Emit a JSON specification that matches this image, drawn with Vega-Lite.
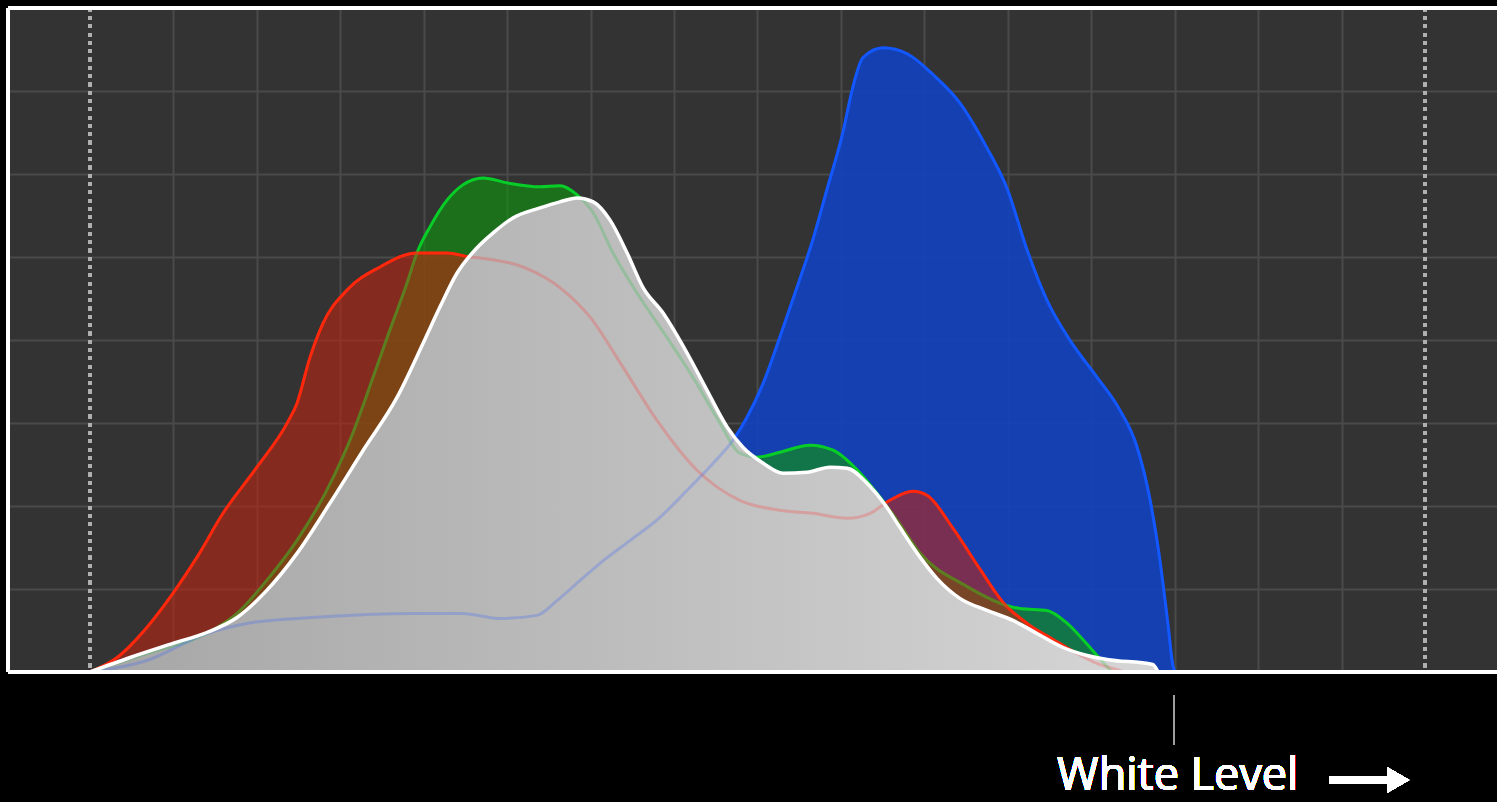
{
  "$schema": "https://vega.github.io/schema/vega-lite/v6.json",
  "autosize": {"type": "none"},
  "padding": {"left": 8, "top": 8, "right": 0, "bottom": 130},
  "width": 1489,
  "height": 664,
  "background": "#000000",
  "config": {"view": {"fill": "#333333", "stroke": null}},
  "datasets": {
    "hist": [
      {"c":"R","x":0,"y":0},{"c":"R","x":5.2,"y":17.5},{"c":"R","x":10.9,"y":53.7},{"c":"R","x":15.9,"y":94.7},{"c":"R","x":20.5,"y":138.1},{"c":"R","x":25.5,"y":191.2},{"c":"R","x":32.0,"y":246.7},{"c":"R","x":37.8,"y":299.8},{"c":"R","x":39.7,"y":323.9},{"c":"R","x":42.2,"y":379.4},{"c":"R","x":44.7,"y":420.4},{"c":"R","x":49.3,"y":460.2},{"c":"R","x":55.6,"y":488},{"c":"R","x":62.7,"y":504.9},{"c":"R","x":68.5,"y":504.9},{"c":"R","x":72.9,"y":500},{"c":"R","x":74.8,"y":498.8},{"c":"R","x":83.0,"y":488},{"c":"R","x":90.7,"y":460.2},{"c":"R","x":95.9,"y":427.6},{"c":"R","x":102.2,"y":367.3},{"c":"R","x":108.7,"y":303.4},{"c":"R","x":116.4,"y":243.1},{"c":"R","x":124.6,"y":206.9},{"c":"R","x":132.3,"y":194.8},{"c":"R","x":138.6,"y":191.2},{"c":"R","x":145.2,"y":185.2},{"c":"R","x":149.6,"y":191.2},{"c":"R","x":153.4,"y":206.9},{"c":"R","x":157.8,"y":217.7},{"c":"R","x":160.5,"y":212.9},{"c":"R","x":165.5,"y":173.1},{"c":"R","x":170.7,"y":123.6},{"c":"R","x":175.1,"y":83.8},{"c":"R","x":179.7,"y":58.5},{"c":"R","x":184.7,"y":39.2},{"c":"R","x":188.9,"y":23.5},{"c":"R","x":193.1,"y":10.3},{"c":"R","x":197.5,"y":1.8},{"c":"R","x":198.5,"y":0},
      {"c":"G","x":0,"y":0},{"c":"G","x":10.9,"y":22.3},{"c":"G","x":22.4,"y":46.4},{"c":"G","x":28.2,"y":70.6},{"c":"G","x":33.9,"y":110.4},{"c":"G","x":39.7,"y":158.6},{"c":"G","x":45.4,"y":218.9},{"c":"G","x":50.4,"y":287.7},{"c":"G","x":54.3,"y":355.3},{"c":"G","x":57.5,"y":411.9},{"c":"G","x":60.8,"y":468.6},{"c":"G","x":62.7,"y":504.9},{"c":"G","x":65.2,"y":536.3},{"c":"G","x":68.5,"y":568.8},{"c":"G","x":71.5,"y":586.9},{"c":"G","x":75.4,"y":595.3},{"c":"G","x":80.0,"y":589.3},{"c":"G","x":86.3,"y":584.5},{"c":"G","x":90.1,"y":585.7},{"c":"G","x":93.4,"y":574.8},{"c":"G","x":96.5,"y":553.1},{"c":"G","x":100.3,"y":504.9},{"c":"G","x":104.9,"y":456.6},{"c":"G","x":110.6,"y":403.5},{"c":"G","x":115.6,"y":355.3},{"c":"G","x":120.8,"y":299.8},{"c":"G","x":124.6,"y":263.6},{"c":"G","x":127.9,"y":258.8},{"c":"G","x":132.3,"y":264.8},{"c":"G","x":138.1,"y":273.3},{"c":"G","x":142.5,"y":267.2},{"c":"G","x":147.7,"y":239.5},{"c":"G","x":151.5,"y":210.5},{"c":"G","x":154.8,"y":182.8},{"c":"G","x":159.2,"y":143},{"c":"G","x":167.8,"y":104.4},{"c":"G","x":176.4,"y":79},{"c":"G","x":178.3,"y":76.6},{"c":"G","x":183.5,"y":74.2},{"c":"G","x":187.4,"y":58.5},{"c":"G","x":190.4,"y":39.2},{"c":"G","x":193.1,"y":19.9},{"c":"G","x":195.0,"y":6.6},{"c":"G","x":196,"y":0},
      {"c":"B","x":0,"y":0},{"c":"B","x":10.9,"y":13.9},{"c":"B","x":22.4,"y":46.4},{"c":"B","x":30.1,"y":58.5},{"c":"B","x":39.7,"y":64.5},{"c":"B","x":49.3,"y":68.2},{"c":"B","x":61.9,"y":70.6},{"c":"B","x":71.5,"y":70.6},{"c":"B","x":78.6,"y":64.5},{"c":"B","x":85.7,"y":68.2},{"c":"B","x":89.6,"y":86.3},{"c":"B","x":94.0,"y":110.4},{"c":"B","x":97.8,"y":130.9},{"c":"B","x":103.6,"y":158.6},{"c":"B","x":109.3,"y":186.4},{"c":"B","x":114.5,"y":218.9},{"c":"B","x":119.5,"y":251.5},{"c":"B","x":123.3,"y":279.3},{"c":"B","x":126.0,"y":307},{"c":"B","x":129.1,"y":348},{"c":"B","x":132.3,"y":403.5},{"c":"B","x":135.6,"y":463.8},{"c":"B","x":138.6,"y":520.5},{"c":"B","x":141.3,"y":580.8},{"c":"B","x":144.4,"y":650.8},{"c":"B","x":146.3,"y":705.1},{"c":"B","x":148.2,"y":740.1},{"c":"B","x":152.1,"y":752.1},{"c":"B","x":156.7,"y":744.9},{"c":"B","x":161.7,"y":719.6},{"c":"B","x":166.8,"y":685.8},{"c":"B","x":172.0,"y":631.5},{"c":"B","x":175.9,"y":582},{"c":"B","x":179.7,"y":508.5},{"c":"B","x":183.5,"y":448.1},{"c":"B","x":187.9,"y":399.9},{"c":"B","x":193.1,"y":355.3},{"c":"B","x":197.5,"y":315.5},{"c":"B","x":200.8,"y":270.8},{"c":"B","x":203.3,"y":206.9},{"c":"B","x":205.2,"y":133.3},{"c":"B","x":206.7,"y":58.5},{"c":"B","x":207.7,"y":6.6},{"c":"B","x":208.1,"y":0},
      {"c":"L","x":0,"y":0},{"c":"L","x":7.7,"y":17.5},{"c":"L","x":15.9,"y":34.4},{"c":"L","x":22.4,"y":47.6},{"c":"L","x":28.2,"y":65.7},{"c":"L","x":33.9,"y":98.3},{"c":"L","x":39.7,"y":142.9},{"c":"L","x":46.0,"y":203.3},{"c":"L","x":52.4,"y":267.2},{"c":"L","x":58.9,"y":331.1},{"c":"L","x":63.9,"y":396.3},{"c":"L","x":67.1,"y":439.7},{"c":"L","x":70.4,"y":480.7},{"c":"L","x":74.0,"y":509.7},{"c":"L","x":77.3,"y":529},{"c":"L","x":81.1,"y":547.1},{"c":"L","x":86.3,"y":559.1},{"c":"L","x":90.1,"y":566.4},{"c":"L","x":93.4,"y":571.2},{"c":"L","x":96.5,"y":566.4},{"c":"L","x":99.7,"y":544.7},{"c":"L","x":103.0,"y":504.9},{"c":"L","x":106.0,"y":463.8},{"c":"L","x":109.9,"y":432.4},{"c":"L","x":114.5,"y":384.2},{"c":"L","x":118.3,"y":339.6},{"c":"L","x":122.2,"y":295},{"c":"L","x":125.2,"y":270.8},{"c":"L","x":129.1,"y":251.5},{"c":"L","x":132.9,"y":239.5},{"c":"L","x":137.5,"y":240.7},{"c":"L","x":141.9,"y":246.7},{"c":"L","x":145.2,"y":245.5},{"c":"L","x":149.0,"y":227.4},{"c":"L","x":152.8,"y":198.4},{"c":"L","x":155.3,"y":174.3},{"c":"L","x":159.2,"y":138.1},{"c":"L","x":162.4,"y":112.8},{"c":"L","x":166.8,"y":88.7},{"c":"L","x":172.0,"y":74.2},{"c":"L","x":177.0,"y":62.1},{"c":"L","x":181.6,"y":46.4},{"c":"L","x":186.6,"y":29.5},{"c":"L","x":191.2,"y":19.9},{"c":"L","x":195.0,"y":15.1},{"c":"L","x":203.8,"y":9},{"c":"L","x":204.8,"y":0}
    ]
  },
  "data": {"name": "hist"},
  "encoding": {
    "x": {"field": "x", "type": "quantitative", "scale": {"domain": [-15.724, 269.81], "nice": false, "zero": false},
      "axis": {"values": [16,32,48,64,80,96,112,128,144,160,176,192,208,224,240], "grid": true, "gridColor": "#4a4a4a", "gridWidth": 2, "labels": false, "ticks": false, "domain": false, "title": null}},
    "y": {"field": "y", "type": "quantitative", "scale": {"domain": [0, 800], "nice": false},
      "axis": {"values": [100,200,300,400,500,600,700], "grid": true, "gridColor": "#4a4a4a", "gridWidth": 2, "labels": false, "ticks": false, "domain": false, "title": null}}
  },
  "layer": [
    {"mark": {"type": "rule", "color": "#b0b0b0", "strokeWidth": 3, "strokeDash": [3.5, 4.8]}, "encoding": {"x": {"datum": 0}, "y": null}},
    {"mark": {"type": "rule", "color": "#b0b0b0", "strokeWidth": 3, "strokeDash": [3.5, 4.8]}, "encoding": {"x": {"datum": 256}, "y": null}},
    {"transform": [{"filter": "datum.c === 'B'"}], "mark": {"type": "area", "interpolate": "monotone", "color": "#1141c0", "opacity": 0.9}},
    {"transform": [{"filter": "datum.c === 'B'"}], "mark": {"type": "line", "interpolate": "monotone", "color": "#0a55ff", "strokeWidth": 3}},
    {"transform": [{"filter": "datum.c === 'G'"}], "mark": {"type": "area", "interpolate": "monotone", "color": "#119211", "opacity": 0.65}},
    {"transform": [{"filter": "datum.c === 'G'"}], "mark": {"type": "line", "interpolate": "monotone", "color": "#00d020", "strokeWidth": 3}},
    {"transform": [{"filter": "datum.c === 'R'"}], "mark": {"type": "area", "interpolate": "monotone", "color": "#bc2410", "opacity": 0.6}},
    {"transform": [{"filter": "datum.c === 'R'"}], "mark": {"type": "line", "interpolate": "monotone", "color": "#ff2600", "strokeWidth": 3}},
    {"transform": [{"filter": "datum.c === 'L'"}], "mark": {"type": "area", "interpolate": "monotone",
      "color": {"gradient": "linear", "x1": 0, "y1": 0, "x2": 1, "y2": 0, "stops": [{"offset": 0, "color": "#a6a6a6"}, {"offset": 0.5, "color": "#bdbdbd"}, {"offset": 1, "color": "#d6d6d6"}]}}},
    {"transform": [{"filter": "datum.c === 'R'"}], "mark": {"type": "line", "interpolate": "monotone", "color": "#ff3030", "strokeWidth": 3, "opacity": 0.25}},
    {"transform": [{"filter": "datum.c === 'G'"}], "mark": {"type": "line", "interpolate": "monotone", "color": "#20c040", "strokeWidth": 3, "opacity": 0.25}},
    {"transform": [{"filter": "datum.c === 'B'"}], "mark": {"type": "line", "interpolate": "monotone", "color": "#3060ff", "strokeWidth": 3, "opacity": 0.25}},
    {"transform": [{"filter": "datum.c === 'L'"}], "mark": {"type": "line", "interpolate": "monotone", "color": "#ffffff", "strokeWidth": 3.5}},
    {"mark": {"type": "rule", "color": "#ffffff", "strokeWidth": 3.5}, "encoding": {"y": {"datum": 800}, "x": null}},
    {"mark": {"type": "rule", "color": "#ffffff", "strokeWidth": 3.5}, "encoding": {"y": {"datum": 0}, "x": null}},
    {"mark": {"type": "rule", "color": "#ffffff", "strokeWidth": 3.5}, "encoding": {"x": {"datum": -15.724}, "y": null}},
    {"mark": {"type": "rule", "color": "#a0a0a0", "strokeWidth": 1.5}, "encoding": {"x": {"datum": 207.9}, "y": {"datum": -28}, "y2": {"datum": -88}}},
    {"mark": {"type": "text", "color": "#ffffff", "font": "Open Sans", "fontSize": 45, "align": "center", "baseline": "bottom"}, "encoding": {"x": {"datum": 208.6}, "y": {"datum": -153}, "text": {"value": "White Level"}}},
    {"mark": {"type": "rule", "color": "#ffffff", "strokeWidth": 7}, "encoding": {"x": {"datum": 237.6}, "x2": {"datum": 249.2}, "y": {"datum": -130}}},
    {"mark": {"type": "point", "shape": "triangle-right", "size": 625, "filled": true, "color": "#ffffff", "opacity": 1, "strokeWidth": 0}, "encoding": {"x": {"datum": 250.9}, "y": {"datum": -130}}}
  ]
}
